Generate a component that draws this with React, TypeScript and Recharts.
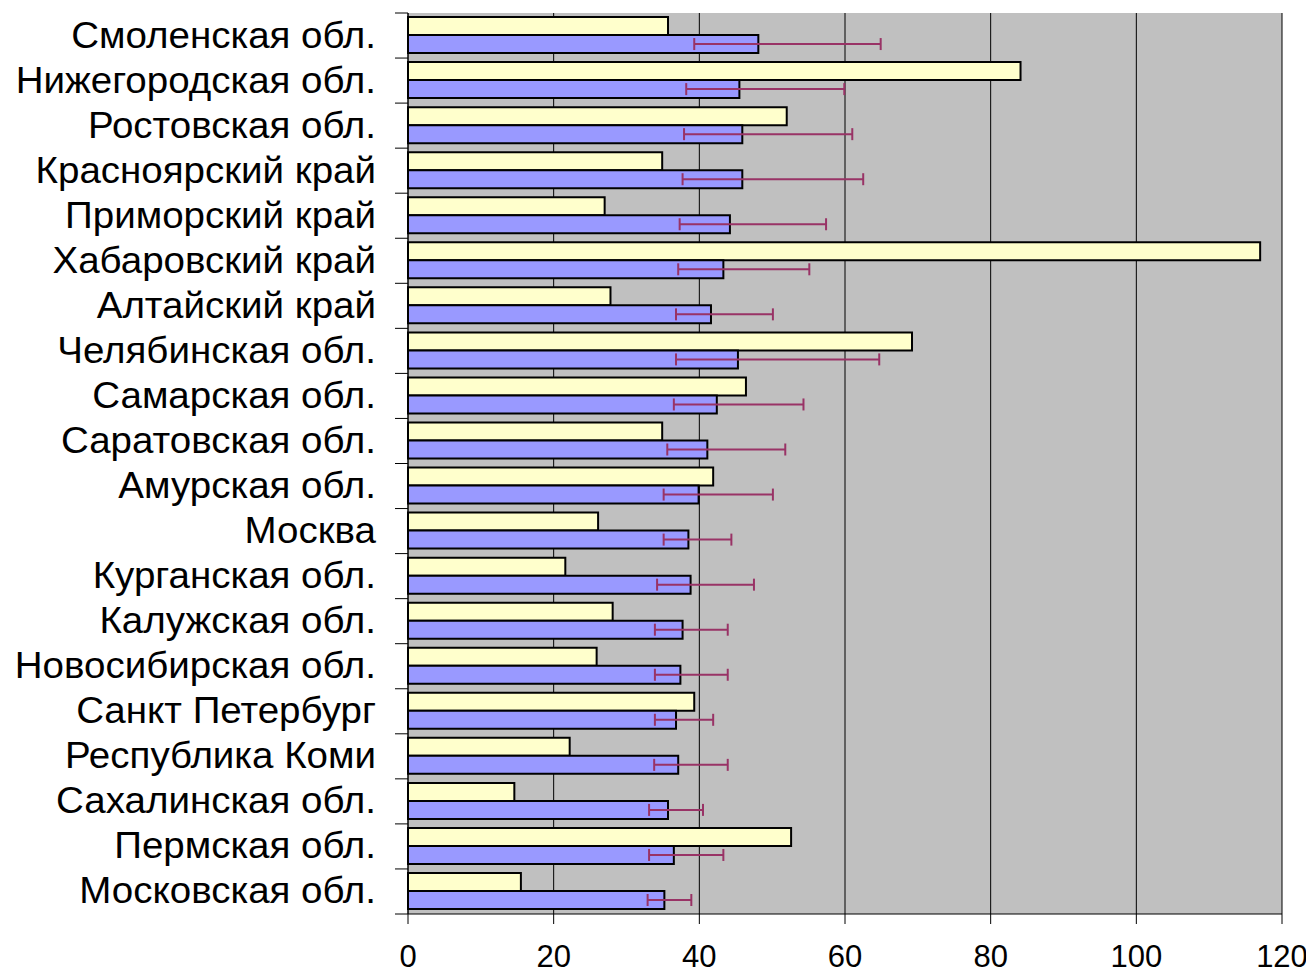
import { Bar, BarChart, CartesianGrid, ErrorBar, XAxis, YAxis } from 'recharts';

const regions = [
  'Смоленская обл.', 'Нижегородская обл.', 'Ростовская обл.', 'Красноярский край', 'Приморский край',
  'Хабаровский край', 'Алтайский край', 'Челябинская обл.', 'Самарская обл.', 'Саратовская обл.',
  'Амурская обл.', 'Москва', 'Курганская обл.', 'Калужская обл.', 'Новосибирская обл.',
  'Санкт Петербург', 'Республика Коми', 'Сахалинская обл.', 'Пермская обл.', 'Московская обл.',
];
const yellowValues = [35.7, 84.1, 52.0, 34.9, 27.0, 117.0, 27.8, 69.2, 46.4, 34.9, 41.9, 26.1, 21.6, 28.1, 25.9, 39.3, 22.2, 14.6, 52.6, 15.5];
const blueValues = [48.1, 45.5, 45.9, 45.9, 44.2, 43.3, 41.6, 45.3, 42.4, 41.1, 39.9, 38.5, 38.8, 37.7, 37.4, 36.8, 37.1, 35.7, 36.5, 35.2];
const errLow = [39.3, 38.2, 37.9, 37.7, 37.3, 37.1, 36.8, 36.8, 36.5, 35.6, 35.1, 35.1, 34.2, 33.9, 33.9, 33.9, 33.8, 33.1, 33.1, 32.9];
const errHigh = [64.9, 59.9, 61.0, 62.5, 57.4, 55.1, 50.1, 64.7, 54.3, 51.8, 50.1, 44.4, 47.5, 43.9, 43.9, 41.9, 43.9, 40.5, 43.3, 38.9];
const xTicks = [0, 20, 40, 60, 80, 100, 120];

const data = regions.map((name, i) => ({
  name,
  yellow: yellowValues[i],
  blue: blueValues[i],
  err: [blueValues[i] - errLow[i], errHigh[i] - blueValues[i]],
}));

const FONT = '"Liberation Sans", Arial, sans-serif';
const Y_TICK_SIZE = 13;
const Y_TICK_MARGIN = 19;

function RegionTick(props: any) {
  const { x, y, payload, index, visibleTicksCount } = props;
  const half = payload?.offset || 22.5;
  const axisX = x + Y_TICK_MARGIN + Y_TICK_SIZE;
  return (
    <g>
      <line x1={axisX - Y_TICK_SIZE} x2={axisX} y1={y - half} y2={y - half} stroke="#000" />
      {index === visibleTicksCount - 1 && (
        <line x1={axisX - Y_TICK_SIZE} x2={axisX} y1={y + half} y2={y + half} stroke="#000" />
      )}
      <text
        x={x}
        y={y}
        dy={12}
        textAnchor="end"
        fontSize={36}
        fontFamily={FONT}
        fill="#000"
        transform={`translate(${x} 0) scale(1.07 1) translate(${-x} 0)`}
      >
        {payload.value}
      </text>
    </g>
  );
}

export default function App() {
  return (
    <BarChart
      width={1306}
      height={967}
      data={data}
      layout="vertical"
      margin={{ top: 5, right: 32, bottom: 0, left: 0 }}
      barCategoryGap="9%"
      barGap={0}
    >
      <CartesianGrid horizontal={false} stroke="#000" fill="#C0C0C0" fillOpacity={1} />
      <XAxis
        type="number"
        domain={[0, 120]}
        ticks={xTicks}
        height={61}
        tickSize={10}
        tickMargin={21}
        axisLine={{ stroke: '#000' }}
        tickLine={{ stroke: '#000' }}
        tick={{ fill: '#000', fontSize: 31, fontFamily: FONT }}
      />
      <YAxis
        type="category"
        dataKey="name"
        width={400}
        tickSize={Y_TICK_SIZE}
        tickMargin={Y_TICK_MARGIN}
        tickLine={false}
        axisLine={{ stroke: '#000' }}
        tick={<RegionTick />}
        interval={0}
      />
      <Bar dataKey="yellow" fill="#FFFFCC" stroke="#000" strokeWidth={2} isAnimationActive={false} />
      <Bar dataKey="blue" fill="#9999FF" stroke="#000" strokeWidth={2} isAnimationActive={false}>
        <ErrorBar dataKey="err" direction="x" width={6} stroke="#993366" strokeWidth={2} isAnimationActive={false} />
      </Bar>
    </BarChart>
  );
}
